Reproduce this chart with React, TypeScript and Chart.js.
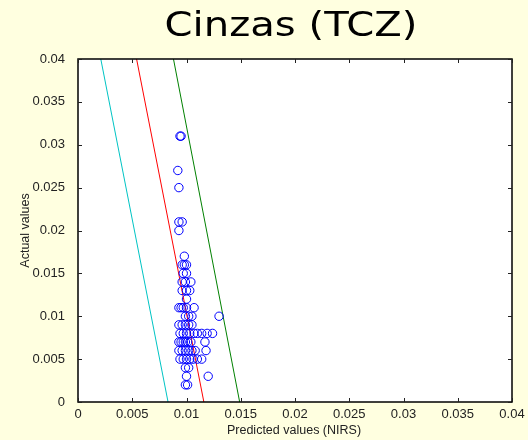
import React, { useEffect, useRef } from "react";
import { Chart, registerables } from "chart.js";

Chart.register(...registerables);

const titleText = "Cinzas (TCZ)";
const xAxisTitle = "Predicted values (NIRS)";
const yAxisTitle = "Actual values";

const xTicks = [0, 0.005, 0.01, 0.015, 0.02, 0.025, 0.03, 0.035, 0.04];
const yTicks = [0, 0.005, 0.01, 0.015, 0.02, 0.025, 0.03, 0.035, 0.04];

// Samples: NIRS prediction vs. reference (actual) ash content
const predicted = [
  0.0094, 0.0095,
  0.0092,
  0.0093,
  0.0093, 0.0096,
  0.0093,
  0.0098,
  0.0096, 0.0098, 0.0100,
  0.0097, 0.0100,
  0.0096, 0.0099, 0.0104,
  0.0096, 0.0100, 0.0103,
  0.0100,
  0.0093, 0.0095, 0.0097, 0.0100, 0.0107,
  0.0099, 0.0102, 0.0105, 0.0130,
  0.0093, 0.0096, 0.0099, 0.0102, 0.0105,
  0.0094, 0.0097, 0.0100, 0.0103, 0.0107, 0.0110, 0.0114, 0.0119, 0.0124,
  0.0093, 0.0095, 0.0097, 0.0099, 0.0101, 0.0104, 0.0117,
  0.0093, 0.0096, 0.0099, 0.0102, 0.0105, 0.0108, 0.0118,
  0.0094, 0.0097, 0.0100, 0.0103, 0.0106, 0.0110, 0.0114,
  0.0099, 0.0102,
  0.0100, 0.0120,
  0.0099, 0.0101,
];
const actual = [
  0.031, 0.031,
  0.027,
  0.025,
  0.021, 0.021,
  0.020,
  0.017,
  0.016, 0.016, 0.016,
  0.015, 0.015,
  0.014, 0.014, 0.014,
  0.013, 0.013, 0.013,
  0.012,
  0.011, 0.011, 0.011, 0.011, 0.011,
  0.010, 0.010, 0.010, 0.010,
  0.009, 0.009, 0.009, 0.009, 0.009,
  0.008, 0.008, 0.008, 0.008, 0.008, 0.008, 0.008, 0.008, 0.008,
  0.007, 0.007, 0.007, 0.007, 0.007, 0.007, 0.007,
  0.006, 0.006, 0.006, 0.006, 0.006, 0.006, 0.006,
  0.005, 0.005, 0.005, 0.005, 0.005, 0.005, 0.005,
  0.004, 0.004,
  0.003, 0.003,
  0.002, 0.002,
];

// Regression line and its limits, given at the bottom and top of the y range
const lineActual = [0, 0.04];
const lowerLimitPred = [0.0083, 0.0021];
const fitPred = [0.0116, 0.0054];
const upperLimitPred = [0.0149, 0.0088];

const fmt = (v: number) => (v === 0 ? "0" : String(parseFloat(v.toFixed(3))));

const toPoints = (xs: number[], ys: number[]) => xs.map((x, i) => ({ x, y: ys[i] }));

const framePlugin = {
  id: "frame",
  beforeDraw(chart: any) {
    const { ctx, chartArea } = chart;
    const { left, right, top, bottom } = chartArea;
    ctx.save();
    ctx.fillStyle = "#ffffff";
    ctx.fillRect(left, top, right - left, bottom - top);
    ctx.restore();
  },
  afterDraw(chart: any) {
    const { ctx, chartArea } = chart;
    const { left, right, top, bottom } = chartArea;
    const xs = chart.scales.x;
    const ys = chart.scales.y;
    ctx.save();
    // box
    ctx.strokeStyle = "#000";
    ctx.lineWidth = 1.5;
    ctx.strokeRect(left, top, right - left, bottom - top);
    // inward tick marks on all four sides
    ctx.lineWidth = 1;
    ctx.strokeStyle = "#222";
    const tl = 4;
    ctx.beginPath();
    xTicks.forEach((v) => {
      const px = Math.round(xs.getPixelForValue(v)) + 0.5;
      ctx.moveTo(px, bottom);
      ctx.lineTo(px, bottom - tl);
      ctx.moveTo(px, top);
      ctx.lineTo(px, top + tl);
    });
    yTicks.forEach((v) => {
      const py = Math.round(ys.getPixelForValue(v)) + 0.5;
      ctx.moveTo(left, py);
      ctx.lineTo(left + tl, py);
      ctx.moveTo(right, py);
      ctx.lineTo(right - tl, py);
    });
    ctx.stroke();

    // title, stretched to the width of a rounded informal face
    ctx.fillStyle = "#000";
    ctx.textAlign = "center";
    ctx.textBaseline = "alphabetic";
    ctx.font = '34px "DejaVu Sans", "Noto Sans", sans-serif';
    const w = ctx.measureText(titleText).width;
    const sx = 253 / w;
    ctx.save();
    ctx.translate(291, 36);
    ctx.scale(sx, 1);
    ctx.fillText(titleText, 0, 0);
    ctx.restore();

    // axis titles
    ctx.fillStyle = "#222";
    ctx.font = '12.5px "Liberation Sans", Arial, sans-serif';
    ctx.textBaseline = "middle";
    ctx.fillText(xAxisTitle, (left + right) / 2 - 1, 431);
    ctx.translate(26, (top + bottom) / 2);
    ctx.rotate(-Math.PI / 2);
    ctx.fillText(yAxisTitle, 0, 0);
    ctx.restore();
  },
};

export default function App() {
  const canvasRef = useRef<HTMLCanvasElement | null>(null);

  useEffect(() => {
    document.body.style.margin = "0";
    const canvas = canvasRef.current;
    if (!canvas) return;

    const lineStyle = (color: string) => ({
      type: "line" as const,
      borderColor: color,
      borderWidth: 1,
      pointRadius: 0,
      showLine: true,
      fill: false,
      tension: 0,
    });

    const chart = new Chart(canvas, {
      type: "scatter",
      data: {
        datasets: [
          {
            label: "Samples",
            data: toPoints(predicted, actual),
            pointStyle: "circle",
            pointRadius: 4.2,
            pointBorderWidth: 1,
            pointBorderColor: "#0000ff",
            pointBackgroundColor: "rgba(0,0,0,0)",
            showLine: false,
          } as any,
          { label: "Lower", data: toPoints(lowerLimitPred, lineActual), ...lineStyle("#00c4c4") } as any,
          { label: "Fit", data: toPoints(fitPred, lineActual), ...lineStyle("#ff0000") } as any,
          { label: "Upper", data: toPoints(upperLimitPred, lineActual), ...lineStyle("#008000") } as any,
        ],
      },
      options: {
        animation: false,
        responsive: false,
        events: [],
        layout: { padding: { top: 59, right: 16, left: 0, bottom: 0 } },
        plugins: {
          legend: { display: false },
          tooltip: { enabled: false },
          title: { display: false },
        },
        scales: {
          x: {
            type: "linear",
            min: 0,
            max: 0.04,
            grid: { display: false },
            border: { display: false },
            afterBuildTicks: (s: any) => {
              s.ticks = xTicks.map((v) => ({ value: v }));
            },
            afterFit: (s: any) => {
              s.height = 38;
            },
            ticks: {
              autoSkip: false,
              maxRotation: 0,
              padding: -3,
              color: "#222",
              font: { family: '"Liberation Sans", Arial, sans-serif', size: 13 },
              callback: (v: any) => fmt(Number(v)),
            },
          },
          y: {
            type: "linear",
            min: 0,
            max: 0.04,
            grid: { display: false },
            border: { display: false },
            afterBuildTicks: (s: any) => {
              s.ticks = yTicks.map((v) => ({ value: v }));
            },
            afterFit: (s: any) => {
              s.width = 78;
            },
            ticks: {
              autoSkip: false,
              padding: 5,
              color: "#222",
              font: { family: '"Liberation Sans", Arial, sans-serif', size: 13 },
              callback: (v: any) => fmt(Number(v)),
            },
          },
        },
      },
      plugins: [framePlugin],
    });

    return () => chart.destroy();
  }, []);

  return (
    <div style={{ width: 528, height: 440, background: "#ffffe0", position: "relative" }}>
      <canvas
        ref={canvasRef}
        width={528}
        height={440}
        style={{ display: "block", width: 528, height: 440 }}
      />
    </div>
  );
}
